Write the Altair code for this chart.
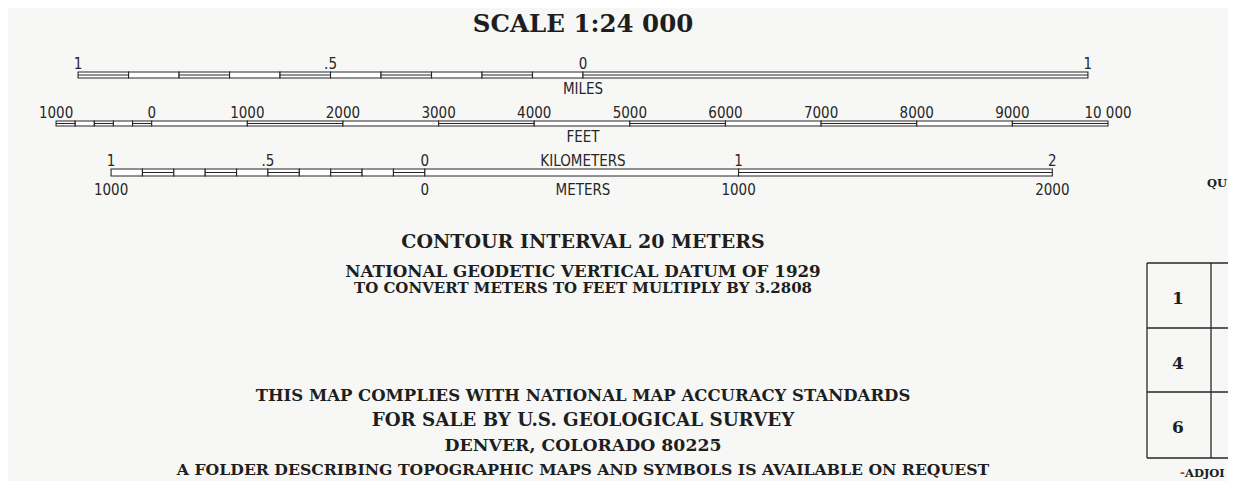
import altair as alt
import pandas as pd

# ---------------- data ----------------
miles_edges = [-1.0, -0.9, -0.8, -0.7, -0.6, -0.5, -0.4, -0.3, -0.2, -0.1, 0.0, 1.0]
miles_fill = [1, 0, 1, 0, 1, 0, 1, 0, 1, 0, 1]
miles_label_at = [-1.0, -0.5, 0.0, 1.0]
miles_labels = ["1", ".5", "0", "1"]

feet_edges = [-1000, -800, -600, -400, -200, 0, 1000, 2000, 3000, 4000, 5000,
              6000, 7000, 8000, 9000, 10000]
feet_fill = [1, 0, 1, 0, 1, 0, 1, 0, 1, 0, 1, 0, 1, 0, 1]
feet_label_at = [-1000, 0, 1000, 2000, 3000, 4000, 5000, 6000, 7000, 8000, 9000, 10000]
feet_labels = ["1000", "0", "1000", "2000", "3000", "4000", "5000", "6000",
               "7000", "8000", "9000", "10 000"]

km_edges = [-1.0, -0.9, -0.8, -0.7, -0.6, -0.5, -0.4, -0.3, -0.2, -0.1, 0.0, 1.0, 2.0]
km_fill = [0, 1, 0, 1, 0, 1, 0, 1, 0, 1, 0, 1]
km_label_at = [-1.0, -0.5, 0.0, 1.0, 2.0]
km_labels = ["1", ".5", "0", "1", "2"]
m_label_at = [-1000, 0, 1000, 2000]
m_labels = ["1000", "0", "1000", "2000"]

grid_numbers = ["1", "4", "6"]

title_text = "SCALE 1:24 000"
notes_top = ["CONTOUR INTERVAL 20 METERS",
             "NATIONAL GEODETIC VERTICAL DATUM OF 1929",
             "TO CONVERT METERS TO FEET MULTIPLY BY 3.2808"]
notes_bottom = ["THIS MAP COMPLIES WITH NATIONAL MAP ACCURACY STANDARDS",
                "FOR SALE BY U.S. GEOLOGICAL SURVEY",
                "DENVER, COLORADO 80225",
                "A FOLDER DESCRIBING TOPOGRAPHIC MAPS AND SYMBOLS IS AVAILABLE ON REQUEST"]
side_top = "QU"
side_bottom = "ADJOI"

# ---------------- layout ----------------
W, H = 1220, 473
PX_PER_FT = 0.09563
FT0_PX = 143.7                      # plot x of the feet-bar zero
D0 = -FT0_PX / PX_PER_FT
D1 = D0 + W / PX_PER_FT
xs = alt.Scale(domain=[D0, D1], range=[0, W], nice=False, zero=False)

FT_PER = {"mi": 5280.0, "ft": 1.0, "km": 3280.84, "m": 3.28084}
ORIGIN = {"mi": 4510.0, "ft": 0.0, "km": 2856.0}

INK = "#262626"
NARROW = "Liberation Sans Narrow, DejaVu Sans Condensed, sans-serif"
SERIF = "DejaVu Serif, Liberation Serif, serif"
LSIZE = 15


def bar(edges, fill, unit, origin, y0, y1):
    f = FT_PER[unit]
    df = pd.DataFrame({
        "x": [origin + e * f for e in edges[:-1]],
        "x2": [origin + e * f for e in edges[1:]],
        "filled": fill,
    })
    base = alt.Chart(df)
    rect = base.mark_rect(fill="white", stroke=INK, strokeWidth=1.1).encode(
        x=alt.X("x:Q", scale=xs, axis=None), x2="x2:Q",
        y=alt.value(y0), y2=alt.value(y1))
    mid = base.transform_filter("datum.filled == 1").mark_rule(
        stroke=INK, strokeWidth=1).encode(
        x=alt.X("x:Q", scale=xs, axis=None), x2="x2:Q",
        y=alt.value((y0 + y1) / 2))
    return [rect, mid]


def labels(at, texts, unit, origin, baseline, size=LSIZE):
    f = FT_PER[unit]
    df = pd.DataFrame({"x": [origin + a * f for a in at], "t": texts})
    return alt.Chart(df).mark_text(font=NARROW, fontSize=size, baseline="alphabetic",
                                   align="center", color=INK).encode(
        x=alt.X("x:Q", scale=xs, axis=None), y=alt.value(baseline), text="t:N")


def unit_name(name, baseline):
    df = pd.DataFrame({"x": [ORIGIN["mi"]], "t": [name]})
    return alt.Chart(df).mark_text(font=NARROW, fontSize=LSIZE, baseline="alphabetic",
                                   align="center", color=INK).encode(
        x=alt.X("x:Q", scale=xs, axis=None), y=alt.value(baseline), text="t:N")


def note(text, x, baseline, size, weight="bold", align="center", color="#1e1e1e"):
    return alt.Chart(pd.DataFrame({"t": [text]})).mark_text(
        font=SERIF, fontSize=size, fontWeight=weight, baseline="alphabetic",
        align=align, color=color).encode(
        x=alt.value(x), y=alt.value(baseline), text="t:N")


def hline(x, x2, y):
    return alt.Chart(pd.DataFrame({"a": [0]})).mark_rule(stroke=INK, strokeWidth=1.3).encode(
        x=alt.value(x), x2=alt.value(x2), y=alt.value(y))


def vline(x, y, y2):
    return alt.Chart(pd.DataFrame({"a": [0]})).mark_rule(stroke=INK, strokeWidth=1.3).encode(
        x=alt.value(x), y=alt.value(y), y2=alt.value(y2))


layers = []
# miles bar
layers += bar(miles_edges, miles_fill, "mi", ORIGIN["mi"], 64, 70)
layers.append(labels(miles_label_at, miles_labels, "mi", ORIGIN["mi"], 61))
layers.append(unit_name("MILES", 86))
# feet bar
layers += bar(feet_edges, feet_fill, "ft", ORIGIN["ft"], 113, 118)
layers.append(labels(feet_label_at, feet_labels, "ft", ORIGIN["ft"], 110))
layers.append(unit_name("FEET", 134))
# km bar
layers += bar(km_edges, km_fill, "km", ORIGIN["km"], 161, 168)
layers.append(labels(km_label_at, km_labels, "km", ORIGIN["km"], 158))
layers.append(labels(m_label_at, m_labels, "m", ORIGIN["km"], 187))
layers.append(unit_name("KILOMETERS", 158))
layers.append(unit_name("METERS", 187))

# texts
layers.append(note(title_text, 575, 24, 24.5))
layers.append(note(notes_top[0], 575, 240, 19))
layers.append(note(notes_top[1], 575, 269, 16.7))
layers.append(note(notes_top[2], 575, 285, 15.0))
layers.append(note(notes_bottom[0], 575, 393, 16.5))
layers.append(note(notes_bottom[1], 575, 418, 18.3))
layers.append(note(notes_bottom[2], 575, 443, 17.3))
layers.append(note(notes_bottom[3], 575, 467, 15.7))

# index grid at right
gx0, gx1, gx2 = 1139, 1203, 1220
gy = [255, 320, 384, 450]
for y in gy:
    layers.append(hline(gx0, gx2, y))
layers.append(vline(gx0, gy[0], gy[-1]))
layers.append(vline(gx1, gy[0], gy[-1]))
for n, yb in zip(grid_numbers, [296, 361, 425]):
    layers.append(note(n, 1170, yb, 17))
layers.append(note(side_top, 1199, 179, 11.5, align="left"))
layers.append(note("-", 1172, 469, 12, color="#d0302a", align="left"))
layers.append(note(side_bottom, 1177, 469, 11.5, align="left"))

chart = alt.layer(*layers).properties(
    width=W, height=H, padding=0, background="#f7f8f6",
    autosize=alt.AutoSizeParams(type="none")
).configure_view(stroke=None)

chart.save("out.html", embed_options={"renderer": "svg", "actions": False})
